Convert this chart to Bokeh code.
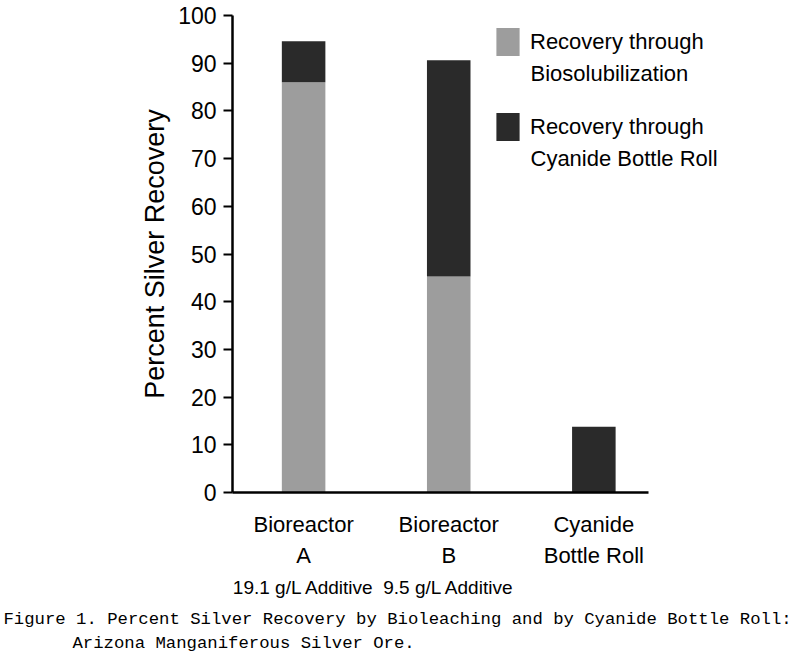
from bokeh.plotting import figure
from bokeh.models import (Range1d, FixedTicker, LinearAxis, Legend, LegendItem,
                          Label, Title, ColumnDataSource)
from bokeh.embed import file_html
from bokeh.resources import INLINE

# ---- data ----
categories = ["Bioreactor\nA", "Bioreactor\nB", "Cyanide\nBottle Roll"]
additives = ["19.1 g/L Additive", "9.5 g/L Additive", ""]
biosolubilization = [86.0, 45.3, 0.0]
cyanide_bottle_roll = [8.6, 45.3, 13.8]
series_line1 = ["Recovery through", "Recovery through"]
series_line2 = ["Biosolubilization", "Cyanide Bottle Roll"]
y_ticks = [0, 10, 20, 30, 40, 50, 60, 70, 80, 90, 100]
y_label = "Percent Silver Recovery"
caption_lines = ["Figure 1. Percent Silver Recovery by Bioleaching and by Cyanide Bottle Roll:",
                 "Arizona Manganiferous Silver Ore."]

SANS = "Liberation Sans"
MONO = "Liberation Mono"

xpos = [i + 1 for i in range(len(categories))]
src = ColumnDataSource(dict(x=xpos, bio=biosolubilization, cyan=cyanide_bottle_roll))

p = figure(frame_width=550, frame_height=477,
           x_range=Range1d(0.51, 4.30), y_range=Range1d(0, 100),
           output_backend="svg", toolbar_location=None,
           min_border_left=232, min_border_right=10,
           min_border_top=15, min_border_bottom=170)
p.grid.visible = False
p.outline_line_color = None

rs = p.vbar_stack(["bio", "cyan"], x="x", width=0.3, source=src,
                  color=["#9d9d9d", "#2a2a2a"], line_color=None)

# y axis
ya = p.yaxis[0]
ya.ticker = FixedTicker(ticks=y_ticks)
ya.axis_line_width = 2.5
ya.axis_line_color = "black"
ya.major_tick_line_width = 2
ya.major_tick_line_color = "black"
ya.major_tick_out = 9
ya.major_tick_in = 0
ya.minor_tick_line_color = None
ya.major_label_text_font = SANS
ya.major_label_text_font_size = "23px"
ya.major_label_text_color = "black"
ya.major_label_standoff = 7
ya.axis_label = y_label
ya.axis_label_text_font = SANS
ya.axis_label_text_font_size = "27px"
ya.axis_label_text_font_style = "normal"
ya.axis_label_text_color = "black"
ya.axis_label_standoff = 5

# x axis (category names)
xa = p.xaxis[0]
xa.ticker = FixedTicker(ticks=xpos)
xa.major_label_overrides = {x: c for x, c in zip(xpos, categories)}
xa.bounds = (0.51, 3.38)
xa.axis_line_width = 2.5
xa.axis_line_color = "black"
xa.major_tick_line_color = None
xa.minor_tick_line_color = None
xa.major_label_text_font = SANS
xa.major_label_text_font_size = "22px"
xa.major_label_text_color = "black"
xa.major_label_text_line_height = 1.25
xa.major_label_standoff = 13

# second x axis (additive notes)
xa2 = LinearAxis(ticker=FixedTicker(ticks=xpos),
                 major_label_overrides={x: a for x, a in zip(xpos, additives)},
                 axis_line_color=None, major_tick_line_color=None,
                 minor_tick_line_color=None,
                 major_label_text_font=SANS, major_label_text_font_size="19px",
                 major_label_text_color="black", major_label_standoff=0)
p.add_layout(xa2, "below")

legend = Legend(items=[LegendItem(label=series_line1[0], renderers=[rs[0]]),
                       LegendItem(label=series_line1[1], renderers=[rs[1]])],
                location=(261, 348), glyph_width=29, glyph_height=35,
                label_standoff=8, spacing=50, padding=0, margin=0,
                border_line_color=None, background_fill_alpha=0,
                label_text_font=SANS, label_text_font_size="22px",
                label_text_color="black")
p.add_layout(legend)

for txt, yy in zip(series_line2, [419, 334]):
    p.add_layout(Label(x=298, y=yy, x_units="screen", y_units="screen",
                       text=txt, text_font=SANS, text_font_size="22px",
                       text_baseline="middle", text_color="black"))

p.add_layout(Title(text=caption_lines[0], align="left", offset=-229,
                   text_font=MONO, text_font_size="17.3px", text_font_style="normal",
                   text_color="black", standoff=14), "below")
p.add_layout(Title(text=caption_lines[1], align="left", offset=-160,
                   text_font=MONO, text_font_size="17.3px", text_font_style="normal",
                   text_color="black", standoff=-8), "below")

open("out.html", "w").write(file_html(p, INLINE))
